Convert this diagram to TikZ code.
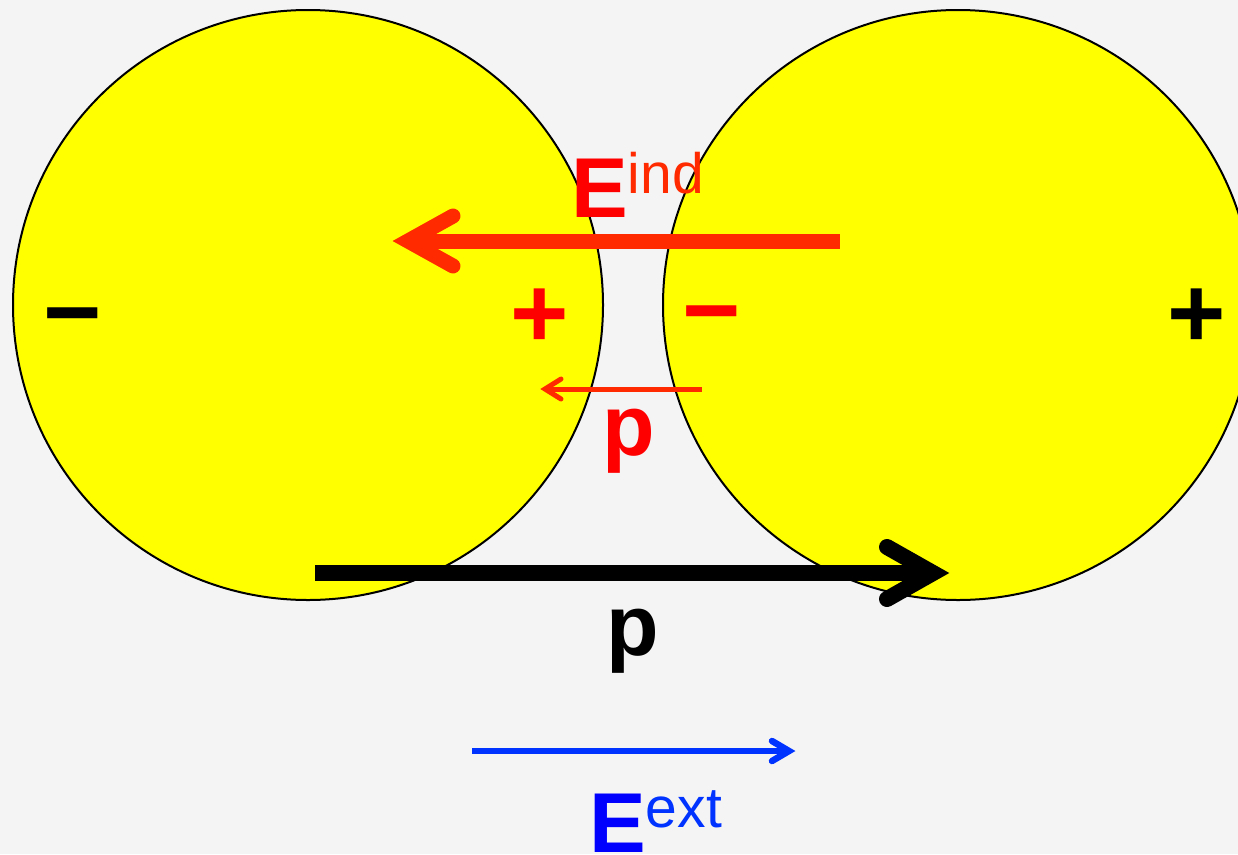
\documentclass[tikz,border=0pt]{standalone}
\usepackage{fontspec}
\setmainfont{Liberation Sans}
\usetikzlibrary{calc}
\definecolor{bg}{HTML}{F4F4F4}
\definecolor{ball}{HTML}{FFFF00}
\definecolor{indred}{HTML}{FF2A00}
\definecolor{pred}{HTML}{FF0000}
\definecolor{extblue}{HTML}{0033FF}
\definecolor{eblue}{HTML}{0000FF}
\begin{document}
\begin{tikzpicture}[x=1pt,y=-1pt,
  sphere/.style={fill=ball,draw=black,line width=2pt},
  shaft/.style={line cap=butt},
  barb/.style={line cap=round,line join=miter,miter limit=20},
  sign/.style={inner sep=0pt,anchor=base,font=\fontsize{100}{100}\selectfont\bfseries},
  lbl/.style={inner sep=0pt,anchor=base west}]
\fill[bg] (0,0) rectangle (1238,854);
\useasboundingbox (0,0) rectangle (1238,854);
\clip (0,0) rectangle (1238,854);
% spheres
\node[sphere,circle,minimum size=590pt,inner sep=0pt] (L) at (308,305) {};
\node[sphere,circle,minimum size=590pt,inner sep=0pt] (R) at (958,305) {};
% charges
\node[sign,pred] (lp) at (540,347) {+};
\node[sign,pred] (rm) at (712,344) {−};
\node[sign] (lm) at (73,346) {−};
\node[sign] (rp) at (1197,347) {+};
% induced field arrow
\coordinate (eiS) at (840,241);
\coordinate (eiT) at (408,241);
\draw[indred,line width=15pt,shaft] (eiS) -- (eiT);
\draw[indred,line width=15pt,barb] ($(eiT)+(45,-25)$) -- (eiT) -- ($(eiT)+(45,25)$);
\node[lbl] (Eind) at (571,217) {\fontsize{85}{85}\selectfont\bfseries\color{pred}E\raisebox{24pt}{\fontsize{57}{57}\selectfont\mdseries\color{indred}ind}};
% induced dipole arrow
\coordinate (piS) at (702,389);
\coordinate (piT) at (545,389);
\draw[indred,line width=5pt,shaft] (piS) -- (piT);
\draw[indred,line width=5pt,barb] ($(piT)+(16,-10)$) -- (piT) -- ($(piT)+(16,10)$);
\node[inner sep=0pt,anchor=base,pred,font=\fontsize{86}{86}\selectfont\bfseries] (pind) at (629,455) {p};
% total dipole arrow
\coordinate (pS) at (315,573);
\coordinate (pT) at (933,573);
\draw[black,line width=16pt,shaft] (pS) -- (pT);
\draw[black,line width=16pt,barb] ($(pT)+(-46,-26)$) -- (pT) -- ($(pT)+(-46,26)$);
\node[inner sep=0pt,anchor=base,font=\fontsize{86}{86}\selectfont\bfseries] (ptot) at (633,655) {p};
% external field arrow
\coordinate (eeS) at (472,751);
\coordinate (eeT) at (789,751);
\draw[extblue,line width=6.5pt,shaft] (eeS) -- (eeT);
\draw[extblue,line width=6.5pt,barb] ($(eeT)+(-17,-10)$) -- (eeT) -- ($(eeT)+(-17,10)$);
\node[lbl] (Eext) at (589,852) {\fontsize{85}{85}\selectfont\bfseries\color{eblue}E\raisebox{25pt}{\fontsize{57}{57}\selectfont\mdseries\color{extblue}ext}};
\end{tikzpicture}
\end{document}
